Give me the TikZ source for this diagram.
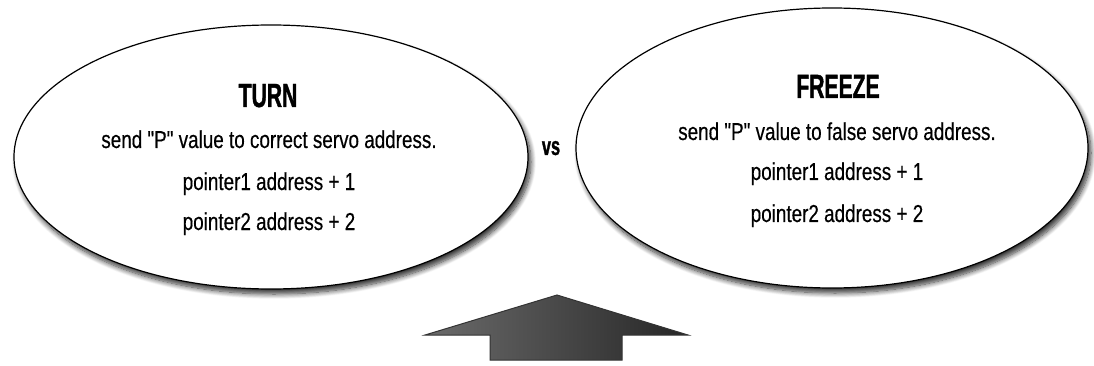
\documentclass[tikz,border=0pt]{standalone}
\usepackage{fontspec}
\setmainfont{Liberation Sans}[FakeStretch=0.77, FakeBold=0.4, Ligatures=TeXOff]
\newfontfamily\headfont{Liberation Sans Bold}[FakeStretch=0.63, FakeBold=1.2]
\usetikzlibrary{shapes.geometric,shadows.blur}
\tikzset{
  bubble/.style={ellipse, draw=black, line width=1.2pt, fill=white, inner sep=0pt,
    blur shadow={shadow xshift=3pt, shadow yshift=-5pt, shadow blur steps=10,
      shadow blur radius=5pt, shadow opacity=80}},
  title/.style={font=\headfont\fontsize{33.5}{35}\selectfont, inner sep=0pt, anchor=base},
  body/.style={font=\fontsize{24.5}{26}\selectfont, inner sep=0pt, anchor=base},
}
\begin{document}
\begin{tikzpicture}[x=1pt, y=-1pt]
\useasboundingbox (0,0) rectangle (1094,366);

% the two alternatives
\node[bubble, minimum width=514pt, minimum height=264pt] (turn) at (271,157) {};
\node[bubble, minimum width=512pt, minimum height=280pt] (freeze) at (832,148) {};

\node[title] (turnT) at (268,107) {TURN};
\node[body] (turn1) at (269,148) {send "P" value to correct servo address.};
\node[body] (turn2) at (269,190) {pointer1 address + 1};
\node[body] (turn3) at (269,230) {pointer2 address + 2};

\node[title] (freezeT) at (838,98) {FREEZE};
\node[body] (freeze1) at (837,140) {send "P" value to false servo address.};
\node[body] (freeze2) at (837,180) {pointer1 address + 1};
\node[body] (freeze3) at (837,222) {pointer2 address + 2};

\node[font=\headfont\fontsize{26}{28}\selectfont, inner sep=0pt, anchor=base] (vs) at (551,155) {vs};

% block arrow pointing up between the bubbles
\shade[left color=black!58, middle color=black!40, right color=black!85,
  draw=black!80, line width=1pt]
  (425,335) -- (557,295) -- (688,335) -- (622,335) -- (622,360)
  -- (490,360) -- (490,335) -- cycle;
\end{tikzpicture}
\end{document}
